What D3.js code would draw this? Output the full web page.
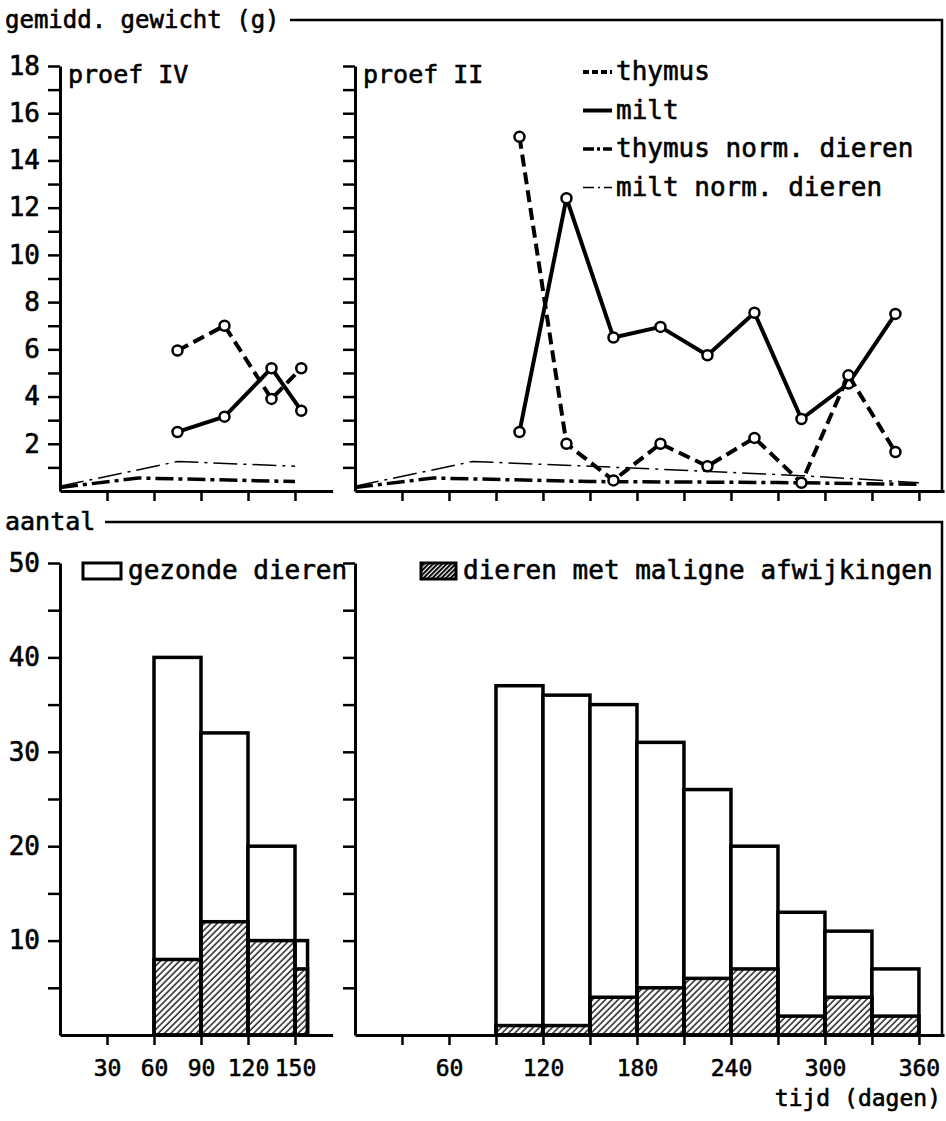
<!DOCTYPE html>
<html>
<head>
<meta charset="utf-8">
<style>
    body {
        margin: 0;
        background: #fff;
    }

    svg {
        display: block;
    }

    text {
        font-family: "DejaVu Sans Mono", monospace;
        fill: #000;
        stroke: #000;
        stroke-width: 0.6px;
    }

    .axis .domain {
        stroke: #000;
        stroke-width: 3;
    }

    .axis .tick line {
        stroke: #000;
        stroke-width: 2.5;
    }

    .axis .tick text {
        font-family: "DejaVu Sans Mono", monospace;
        fill: #000;
        stroke: #000;
        stroke-width: 0.6px;
    }

    .y .tick text {
        font-size: 26px;
    }

    .x .tick text {
        font-size: 23px;
    }

    .frame {
        stroke: #000;
        stroke-width: 2.5;
        fill: none;
    }
</style>
</head>

<body>
<svg width="946" height="1121"></svg>

<script src="https://d3js.org/d3.v7.min.js"></script>

<script>
    // ---- data ----
    // proef IV (top left), points at the middle of each age class
    let daysIV = [75, 105, 135, 154]
    let thymusIV = [5.95, 7.0, 3.9, 5.2]
    let miltIV = [2.5, 3.15, 5.2, 3.4]

    // proef II (top right)
    let daysII = [105, 135, 165, 195, 225, 255, 285, 315, 345]
    let thymusII = [15.0, 2.0, 0.45, 2.0, 1.05, 2.25, 0.35, 4.9, 1.65]
    let miltII = [2.5, 12.4, 6.5, 6.95, 5.75, 7.55, 3.05, 4.55, 7.5]

    // normal animals
    let thymusNormDays = [0, 50, 150, 270, 360]
    let thymusNorm = [0.15, 0.55, 0.4, 0.36, 0.28]
    let miltNormDays = [0, 75, 150, 285, 360]
    let miltNorm = [0.2, 1.25, 1.05, 0.65, 0.35]

    // histogram, proef IV
    let binStartIV = [60, 90, 120, 150]
    let binEndIV = [90, 120, 150, 158]
    let totalIV = [40, 32, 20, 10]
    let malignIV = [8, 12, 10, 7]

    // histogram, proef II
    let binStartII = [90, 120, 150, 180, 210, 240, 270, 300, 330]
    let binEndII = [120, 150, 180, 210, 240, 270, 300, 330, 360]
    let totalII = [37, 36, 35, 31, 26, 20, 13, 11, 7]
    let malignII = [1, 1, 4, 5, 6, 7, 2, 4, 2]

    // ticks and texts
    let weightTicks = d3.range(1, 19)
    let countTicks = d3.range(5, 51, 5)
    let dayTicksIV = [30, 60, 90, 120, 150]
    let dayTicksII = d3.range(30, 361, 30)
    let lineLegend = ["thymus", "milt", "thymus norm. dieren", "milt norm. dieren"]
    let barLegend = ["gezonde dieren", "dieren met maligne afwijkingen"]

    let svg = d3.select("svg")

    // ---- scales ----
    let xL = d3.scaleLinear().domain([0, 174]).range([60, 332.6])
    let xR = d3.scaleLinear().domain([0, 376]).range([355, 944])
    let yW = d3.scaleLinear().domain([0, 18]).range([491, 66])
    let yN = d3.scaleLinear().domain([0, 50]).range([1035, 563])

    // ---- patterns ----
    let defs = svg.append("defs")

    defs.append("pattern")
        .attr("id", "hatch")
        .attr("patternUnits", "userSpaceOnUse")
        .attr("width", 4.5)
        .attr("height", 4.5)
        .attr("patternTransform", "rotate(45)")
        .append("line")
        .attr("x1", 1).attr("y1", 0)
        .attr("x2", 1).attr("y2", 4.5)
        .attr("stroke", "#000")
        .attr("stroke-width", 1.3)

    defs.append("pattern")
        .attr("id", "hatch-dense")
        .attr("patternUnits", "userSpaceOnUse")
        .attr("width", 3.2)
        .attr("height", 3.2)
        .attr("patternTransform", "rotate(45)")
        .append("line")
        .attr("x1", 1).attr("y1", 0)
        .attr("x2", 1).attr("y2", 3.2)
        .attr("stroke", "#000")
        .attr("stroke-width", 2)

    // ---- frames and titles ----
    svg.append("text")
        .attr("x", 5)
        .attr("y", 28)
        .style("font-size", "24px")
        .text("gemidd. gewicht (g)")

    svg.append("path")
        .attr("class", "frame")
        .attr("d", "M290,20H942V491")

    svg.append("text")
        .attr("x", 5)
        .attr("y", 530)
        .style("font-size", "25px")
        .text("aantal")

    svg.append("path")
        .attr("class", "frame")
        .attr("d", "M105,522H942V1035")

    // ---- axes ----
    function yAxis(scale, ticks, x, labels) {
        let ax = d3.axisLeft(scale)
            .tickValues(ticks)
            .tickSize(12)
            .tickSizeOuter(0)
            .tickPadding(8)
            .tickFormat(d => labels && d % 2 == 0 && (ticks.length > 12 || d % 10 == 0) ? d : "")
        svg.append("g")
            .attr("class", "y axis")
            .attr("transform", `translate(${x},0)`)
            .call(ax)
    }

    function xAxis(scale, ticks, y, fmt) {
        let ax = d3.axisBottom(scale)
            .tickValues(ticks)
            .tickSize(10)
            .tickSizeOuter(0)
            .tickPadding(15)
            .tickFormat(fmt)
        svg.append("g")
            .attr("class", "x axis")
            .attr("transform", `translate(0,${y})`)
            .call(ax)
    }

    yAxis(yW, weightTicks, 60, true)
    yAxis(yW, weightTicks, 355, false)
    yAxis(yN, countTicks, 60, true)
    yAxis(yN, countTicks, 355, false)

    xAxis(xL, dayTicksIV, 491, () => "")
    xAxis(xR, dayTicksII, 491, () => "")
    xAxis(xL, dayTicksIV, 1035, d => d)
    xAxis(xR, dayTicksII, 1035, d => d % 60 == 0 ? d : "")

    svg.append("text")
        .attr("x", 941)
        .attr("y", 1106)
        .attr("text-anchor", "end")
        .style("font-size", "23px")
        .text("tijd (dagen)")

    svg.append("text")
        .attr("x", 68)
        .attr("y", 83)
        .style("font-size", "25px")
        .text("proef IV")

    svg.append("text")
        .attr("x", 363)
        .attr("y", 83)
        .style("font-size", "25px")
        .text("proef II")

    // ---- line styles ----
    let styles = {
        "thymus": { width: 4, dash: "12 6" },
        "milt": { width: 4, dash: null },
        "thymus norm. dieren": { width: 3.5, dash: "18 5 4 5" },
        "milt norm. dieren": { width: 1.5, dash: "24 6 3 6" }
    }

    function drawLine(x, days, values, name, dots) {
        let pts = days.map((d, i) => [d, values[i]])
        let line = d3.line()
            .x(d => x(d[0]))
            .y(d => yW(d[1]))
        let st = styles[name]
        svg.append("path")
            .datum(pts)
            .attr("fill", "none")
            .attr("stroke", "#000")
            .attr("stroke-width", st.width)
            .attr("stroke-dasharray", st.dash)
            .attr("stroke-linejoin", "round")
            .attr("d", line)
        if (dots) {
            svg.append("g")
                .selectAll("circle")
                .data(pts)
                .join("circle")
                .attr("cx", d => x(d[0]))
                .attr("cy", d => yW(d[1]))
                .attr("r", 5)
                .attr("fill", "#fff")
                .attr("stroke", "#000")
                .attr("stroke-width", 2.5)
        }
    }

    // norm curves: left panel only up to 150 days
    let keepL = (arr, days) => arr.filter((v, i) => days[i] <= 150)
    drawLine(xL, keepL(miltNormDays, miltNormDays), keepL(miltNorm, miltNormDays), "milt norm. dieren", false)
    drawLine(xL, keepL(thymusNormDays, thymusNormDays), keepL(thymusNorm, thymusNormDays), "thymus norm. dieren", false)
    drawLine(xR, miltNormDays, miltNorm, "milt norm. dieren", false)
    drawLine(xR, thymusNormDays, thymusNorm, "thymus norm. dieren", false)

    drawLine(xL, daysIV, miltIV, "milt", true)
    drawLine(xL, daysIV, thymusIV, "thymus", true)
    drawLine(xR, daysII, miltII, "milt", true)
    drawLine(xR, daysII, thymusII, "thymus", true)

    // legend, top right
    let leg = svg.append("g")
        .selectAll("g")
        .data(lineLegend)
        .join("g")
        .attr("transform", (d, i) => `translate(583,${80 + i * 38.5})`)

    leg.append("line")
        .attr("x1", 0)
        .attr("x2", 29)
        .attr("y1", -8)
        .attr("y2", -8)
        .attr("stroke", "#000")
        .attr("stroke-width", d => styles[d].width)
        .attr("stroke-dasharray", d => d == "thymus" ? "6 3" : d == "thymus norm. dieren" ? "11 3 3 3" : d == "milt norm. dieren" ? "11 4 2 4" : null)

    leg.append("text")
        .attr("x", 33)
        .attr("y", 0)
        .style("font-size", "26px")
        .text(d => d)

    // ---- histograms ----
    function drawBars(x, starts, ends, totals, malign) {
        let bins = starts.map((s, i) => ({ s: s, e: ends[i], total: totals[i], malign: malign[i] }))
        let g = svg.append("g")
        g.selectAll("rect.total")
            .data(bins)
            .join("rect")
            .attr("class", "total")
            .attr("x", d => x(d.s))
            .attr("width", d => x(d.e) - x(d.s))
            .attr("y", d => yN(d.total))
            .attr("height", d => yN(0) - yN(d.total))
            .attr("fill", "#fff")
            .attr("stroke", "#000")
            .attr("stroke-width", 3.5)
        g.selectAll("rect.malign")
            .data(bins)
            .join("rect")
            .attr("class", "malign")
            .attr("x", d => x(d.s))
            .attr("width", d => x(d.e) - x(d.s))
            .attr("y", d => yN(d.malign))
            .attr("height", d => yN(0) - yN(d.malign))
            .attr("fill", "url(#hatch)")
            .attr("stroke", "#000")
            .attr("stroke-width", 3.5)
    }

    drawBars(xL, binStartIV, binEndIV, totalIV, malignIV)
    drawBars(xR, binStartII, binEndII, totalII, malignII)

    // legend, bottom
    svg.append("rect")
        .attr("x", 83)
        .attr("y", 563)
        .attr("width", 38)
        .attr("height", 16)
        .attr("fill", "#fff")
        .attr("stroke", "#000")
        .attr("stroke-width", 3)

    svg.append("text")
        .attr("x", 128)
        .attr("y", 579)
        .style("font-size", "26px")
        .text(barLegend[0])

    svg.append("rect")
        .attr("x", 421)
        .attr("y", 563)
        .attr("width", 35)
        .attr("height", 16)
        .attr("fill", "url(#hatch-dense)")
        .attr("stroke", "#000")
        .attr("stroke-width", 3)

    svg.append("text")
        .attr("x", 463)
        .attr("y", 579)
        .style("font-size", "26px")
        .text(barLegend[1])
</script>
</body>
</html>
